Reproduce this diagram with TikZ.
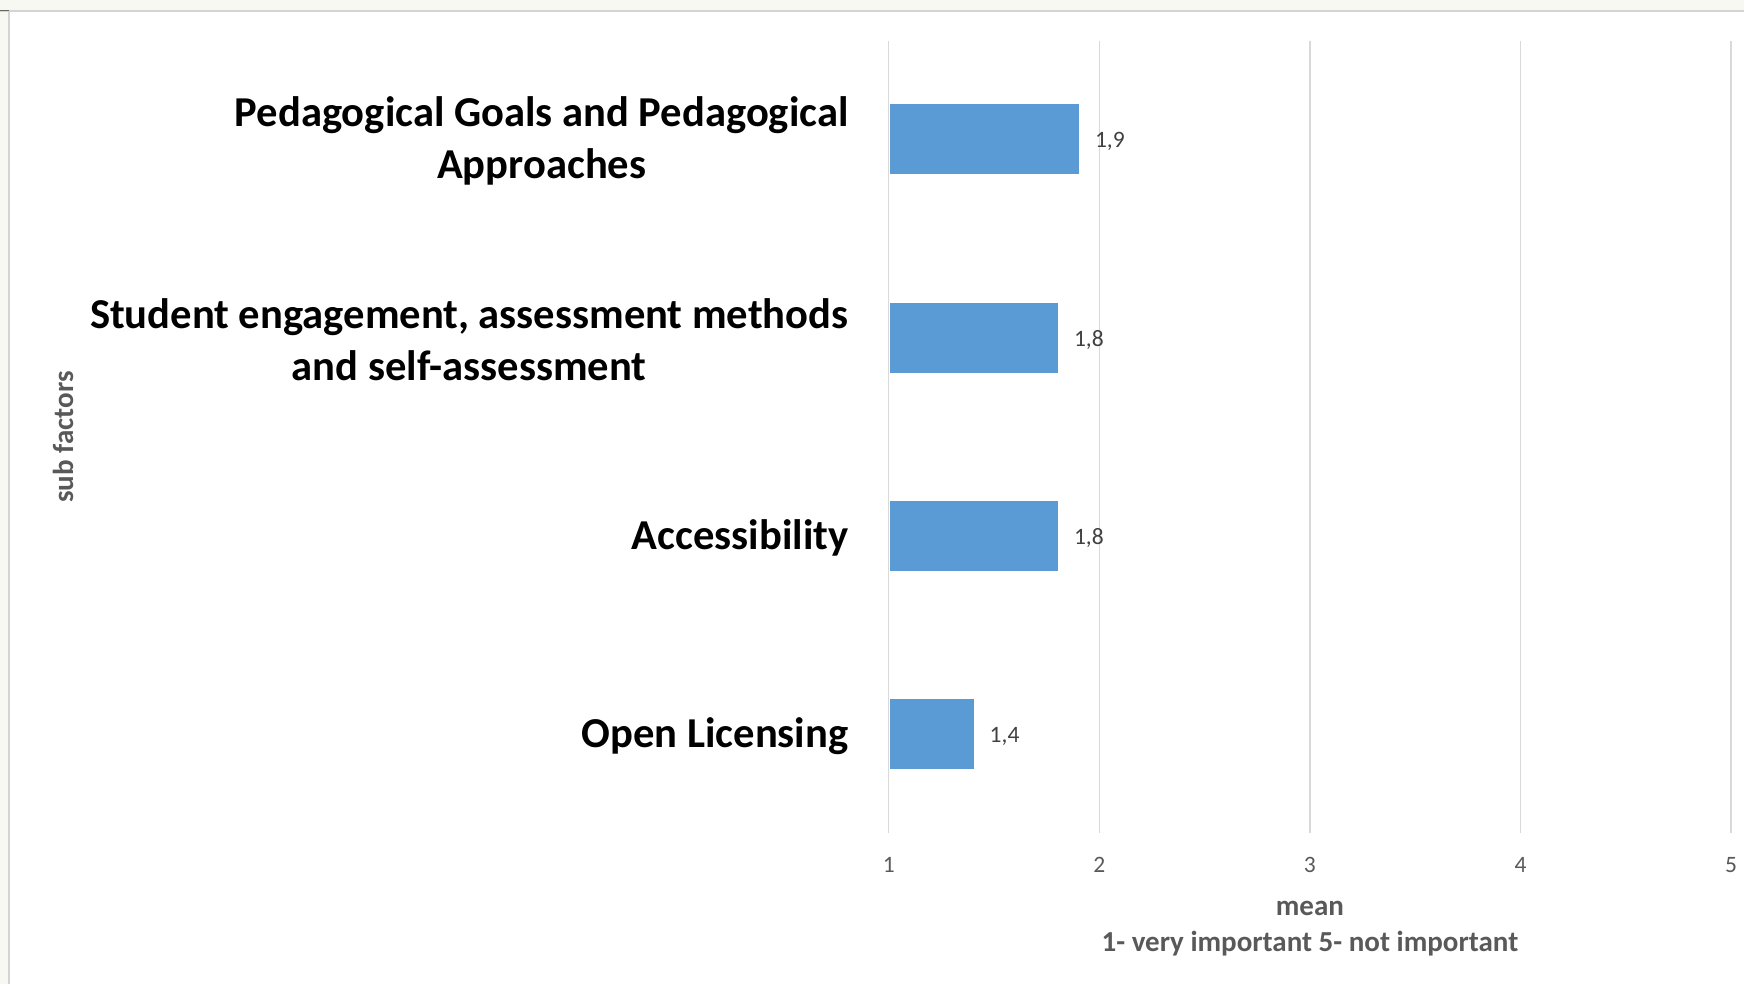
\documentclass[tikz,border=0pt]{standalone}
\usepackage{fontspec}
\setmainfont{Carlito}
\usetikzlibrary{positioning}
\definecolor{barblue}{HTML}{5B9BD5}
\definecolor{gridgrey}{HTML}{D9D9D9}
\definecolor{axisgrey}{HTML}{595959}
\definecolor{valgrey}{HTML}{404040}
\definecolor{framebg}{HTML}{F8F8F3}
\definecolor{framegrey}{HTML}{D4D4D4}

\begin{document}
\begin{tikzpicture}[x=1pt, y=-1pt]
  \tikzstyle{every node}=[inner sep=0pt, outer sep=0pt]
  \tikzstyle{bar}=[rectangle, fill=barblue, minimum height=70pt, anchor=west]
  \tikzstyle{factor}=[anchor=east, align=center, text=black, font=\fontsize{42.6}{52}\selectfont\bfseries]
  \tikzstyle{value}=[text=valgrey, font=\fontsize{23.5}{28}\selectfont]
  \tikzstyle{tick}=[text=axisgrey, font=\fontsize{23.5}{28}\selectfont]
  \tikzstyle{axistitle}=[text=axisgrey, align=center, font=\fontsize{29}{36}\selectfont\bfseries]
  \tikzstyle{grid}=[draw=gridgrey, line width=1.5pt]

  \useasboundingbox (0,0) rectangle (1744,984);
  % window frame
  \fill[framebg] (0,0) rectangle (1744,10);
  \fill[framebg] (0,10) rectangle (8.5,984);
  \draw[framegrey, line width=1.5pt] (0,10.8) -- (1744,10.8);
  \draw[framegrey, line width=1.5pt] (9.2,10.8) -- (9.2,984);
  \draw[black!60, line width=1pt] (0,10.8) -- (8.5,10.8);

  % axis
  \coordinate (top) at (0,41);
  \coordinate (bot) at (0,833);
  \node[tick] (T1) at (888.7,865) {1};
  \node[tick] (T2) at (1099.3,865) {2};
  \node[tick] (T3) at (1309.9,865) {3};
  \node[tick] (T4) at (1520.5,865) {4};
  \node[tick] (T5) at (1731.1,865) {5};
  \draw[grid] (T1 |- top) -- (T1 |- bot);
  \draw[grid] (T2 |- top) -- (T2 |- bot);
  \draw[grid] (T3 |- top) -- (T3 |- bot);
  \draw[grid] (T4 |- top) -- (T4 |- bot);
  \draw[grid] (T5 |- top) -- (T5 |- bot);

  % bars
  \node[bar, minimum width=189.5pt] (B1) at (889.5,139) {};
  \node[bar, minimum width=168.5pt] (B2) at (889.5,337.5) {};
  \node[bar, minimum width=168.5pt] (B3) at (889.5,536) {};
  \node[bar, minimum width=84.2pt] (B4) at (889.5,734) {};
  \node[value, right=16pt of B1, yshift=-2pt] (V1) {1,9};
  \node[value, right=16pt of B2, yshift=-2pt] (V2) {1,8};
  \node[value, right=16pt of B3, yshift=-2pt] (V3) {1,8};
  \node[value, right=16pt of B4, yshift=-2pt] (V4) {1,4};

  % sub factor labels
  \node[factor] (F1) at ([xshift=-41pt, yshift=-2pt]B1.west) {Pedagogical Goals and Pedagogical\\Approaches};
  \node[factor] (F2) at ([xshift=-41pt, yshift=-2pt]B2.west) {Student engagement, assessment methods\\and self-assessment};
  \node[factor] (F3) at ([xshift=-41pt, yshift=-2pt]B3.west) {Accessibility};
  \node[factor] (F4) at ([xshift=-41pt, yshift=-2pt]B4.west) {Open Licensing};

  % axis titles
  \node[axistitle] (mean) at ([yshift=-64pt]T3.center) {mean\\1- very important 5- not important};
  \node[axistitle, rotate=90] (sub) at (63,437) {sub factors};
\end{tikzpicture}
\end{document}
